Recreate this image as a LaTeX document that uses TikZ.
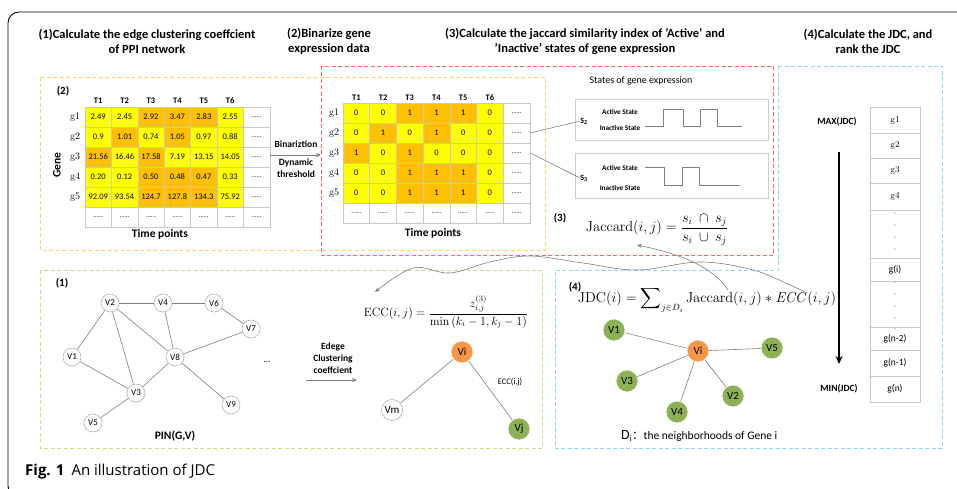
\documentclass[tikz,border=0pt]{standalone}
\usepackage[no-math]{fontspec}
\setmainfont{Carlito}
\newfontfamily\capfont{Open Sans}
\newfontfamily\cjk{Noto Sans CJK SC}
\usepackage{amsmath}
\usetikzlibrary{arrows.meta}

\definecolor{Y}{HTML}{FFFF00}
\definecolor{O}{HTML}{FFC000}
\definecolor{W}{HTML}{FFFFFF}
\definecolor{cellgray}{HTML}{C8C8C8}
\definecolor{dashyel}{HTML}{FFD36B}
\definecolor{dashred}{HTML}{FF6464}
\definecolor{dashblue}{HTML}{8FD6F2}
\definecolor{dashgreen}{HTML}{C5E08F}
\definecolor{vorange}{HTML}{F79646}
\definecolor{vgreen}{HTML}{8DB255}
\definecolor{linegray}{HTML}{7F7F7F}

\newcommand{\dd}{{\fontsize{6.5}{6.5}\selectfont ......}}
\newcommand{\gl}[1]{$\mathrm{g#1}$}

\begin{document}
\begin{tikzpicture}[x=1pt,y=-1pt,
  hdr/.style={font=\bfseries\fontsize{12.5}{15}\selectfont, align=center, inner sep=0},
  blbl/.style={inner sep=0, font=\bfseries\fontsize{9.5}{12}\selectfont, align=center},
  tlbl/.style={inner sep=0, font=\bfseries\fontsize{8.5}{9}\selectfont},
  slbl/.style={inner sep=0, font=\bfseries\fontsize{7.2}{8}\selectfont},
  glbl/.style={inner sep=0, font=\fontsize{10}{10}\selectfont},
  cell/.style={draw=cellgray, line width=0.6, inner sep=0, font=\fontsize{8.5}{9}\selectfont},
  dbox/.style={line width=0.9, dash pattern=on 4pt off 2.5pt},
  conn/.style={draw=linegray, line width=0.6},
  wave/.style={draw=linegray, line width=0.9},
  vnode/.style={circle, draw=gray!60, fill=white, line width=0.6, minimum size=18, inner sep=0, font=\fontsize{9}{9}\selectfont},
  bnode/.style={circle, draw=white, line width=0.6, minimum size=22, inner sep=0, font=\fontsize{11}{11}\selectfont},
  rank/.style={draw=cellgray, line width=0.6, minimum width=50, inner sep=0, font=\fontsize{9.5}{9.5}\selectfont},
  sbox/.style={draw=gray!40, line width=0.8, minimum width=193, inner sep=0},
  tip/.style={-{Stealth[length=5pt,width=4pt]}}
]
\useasboundingbox (0,0) rectangle (957,489);

% outer frame
\begin{scope}
  \clip (0,0) rectangle (957,489);
  \draw[line width=0.9, rounded corners=11] (975,12) -- (8,12) -- (8,497) -- (975,497);
\end{scope}

% step headings
\node[hdr] (h1) at (147,41) {(1)Calculate the edge clustering coeffcient\\of PPI network};
\node[hdr] (h2) at (329,41) {(2)Binarize gene\\expression data};
\node[hdr] (h3) at (585,41) {(3)Calculate the jaccard similarity index of 'Active' and\\'Inactive' states of gene expression};
\node[hdr] (h4) at (868,41) {(4)Calculate the JDC, and\\rank the JDC};

% dashed panels
\draw[dbox, dashyel] (40,77) rectangle (545,250);
\draw[dbox, dashred] (321,66) rectangle (773,255);
\draw[dbox, dashblue] (778,66) -- (942,66) -- (942,448) -- (555,448) -- (555,270) -- (778,270) -- cycle;
\draw[dbox, dashgreen] (40,270) rectangle (542,448);

% ---------- expression matrix ----------
\node[inner sep=0, font=\bfseries\fontsize{11}{11}\selectfont] (p2) at (63,91) {(2)};
\foreach \row [count=\r] in {
  {2.49/Y,2.45/Y,2.92/O,3.47/O,2.83/O,2.55/Y,\dd/W},
  {0.9/Y,1.01/O,0.74/Y,1.05/O,0.97/Y,0.88/Y,\dd/W},
  {21.56/O,16.46/Y,17.58/O,7.19/Y,13.15/Y,14.05/Y,\dd/W},
  {0.20/Y,0.12/Y,0.50/O,0.48/O,0.47/O,0.33/Y,\dd/W},
  {92.09/Y,93.54/Y,124.7/O,127.8/O,134.3/O,75.92/Y,\dd/W},
  {\dd/W,\dd/W,\dd/W,\dd/W,\dd/W,\dd/W,\dd/W}} {
  \foreach \v/\f [count=\c] in \row {
    \node[cell, fill=\f, minimum width=26.4, minimum height=20] (A-\r-\c) at ({85+26.4*(\c-0.5)},{107+20*(\r-0.5)}) {\v};
  }
}
\foreach \c in {1,...,6} {
  \node[tlbl] (AT-\c) at ({85+26.4*(\c-0.5)},101) {T\c};
}
\foreach \r in {1,...,5} {
  \node[glbl] (AG-\r) at (75,{107+20*(\r-0.5)}) {\gl{\r}};
}
\node[inner sep=0, rotate=90, font=\bfseries\fontsize{11.5}{11.5}\selectfont] (gene) at (57,165) {Gene};
\node[inner sep=0, font=\bfseries\fontsize{11.5}{11.5}\selectfont] (tp1) at (160,234) {Time points};

% binarization step
\coordinate (binend) at (321,155);
\draw[conn, tip] (270,155) -- (binend);
\node[blbl] (bin) at (296,144) {Binariztion};
\node[blbl] (dyn) at (296,168) {Dynamic\\threshold};

% ---------- binary matrix ----------
\foreach \row [count=\r] in {
  {0/Y,0/Y,1/O,1/O,1/O,0/Y,\dd/W},
  {0/Y,1/O,0/Y,1/O,0/Y,0/Y,\dd/W},
  {1/O,0/Y,1/O,0/Y,0/Y,0/Y,\dd/W},
  {0/Y,0/Y,1/O,1/O,1/O,0/Y,\dd/W},
  {0/Y,0/Y,1/O,1/O,1/O,0/Y,\dd/W},
  {\dd/W,\dd/W,\dd/W,\dd/W,\dd/W,\dd/W,\dd/W}} {
  \foreach \v/\f [count=\c] in \row {
    \node[cell, fill=\f, minimum width=26.7, minimum height=20] (B-\r-\c) at ({343+26.7*(\c-0.5)},{103+20*(\r-0.5)}) {\v};
  }
}
\foreach \c in {1,...,6} {
  \node[tlbl] (BT-\c) at ({343+26.7*(\c-0.5)},98) {T\c};
}
\foreach \r in {1,...,5} {
  \node[glbl] (BG-\r) at (334,{103+20*(\r-0.5)}) {\gl{\r}};
}
\node[inner sep=0, font=\bfseries\fontsize{11.5}{11.5}\selectfont] (tp2) at (433,233) {Time points};

% ---------- states of gene expression ----------
\node[inner sep=0, font=\fontsize{10}{10}\selectfont] (states) at (641,81) {States of gene expression};
\node[sbox, minimum height=41] (s2box) at (671.5,119.5) {};
\node[sbox, minimum height=45] (s3box) at (671.5,175.5) {};
\node[inner sep=0, font=\bfseries\fontsize{8}{8}\selectfont] (s2lab) at (584,121) {S\textsubscript{2}};
\node[inner sep=0, font=\bfseries\fontsize{8}{8}\selectfont] (s3lab) at (584,178) {S\textsubscript{3}};
\node[slbl] (a2) at (620,112) {Active State};
\node[slbl] (i2) at (620,128) {Inactive State};
\node[slbl] (a3) at (620,168) {Active State};
\node[slbl] (i3) at (620,188) {Inactive State};
\draw[wave] (645,126) -- (663,126) -- (663,109) -- (683,109) -- (683,126) -- (700,126) -- (700,109) -- (717,109) -- (717,126) -- (742,126);
\draw[wave] (645,167) -- (664,167) -- (664,185) -- (682,185) -- (682,167) -- (699,167) -- (699,185) -- (740,185);
\draw[conn] (B-2-7.east) -- (s2lab.west);
\draw[conn] (B-3-7.east) -- (s3lab.west);

\node[inner sep=0, font=\bfseries\fontsize{11}{11}\selectfont] (p3) at (560,218) {(3)};
\node[inner sep=0, font=\fontsize{14}{14}\selectfont] (jac) at (657,230)
  {$\mathrm{Jaccard}(i,j)=\dfrac{s_i\ \cap\ s_j}{s_i\ \cup\ s_j}$};

% ---------- ranking ----------
\node[blbl] (maxl) at (837,122) {MAX(JDC)};
\node[blbl] (minl) at (839,389) {MIN(JDC)};
\foreach \t/\b/\txt [count=\k] in {107/133/\gl{1},133/158/\gl{2},158/183/\gl{3},183/210/\gl{4},210/258/{},258/281/g(i),281/327/{},327/350/g(n-2),350/376/g(n-1),376/402/g(n)} {
  \node[rank, minimum height={\b-\t}] (R-\k) at (895,{(\t+\b)/2}) {\txt};
}
\foreach \y in {213,225,237,249,282,294,306,318,329} {
  \fill[gray!80!black] (895,\y) circle (0.6);
}
\coordinate (arrtop) at (839,152);
\coordinate (arrbot) at (839,364);
\draw[line width=1.8, -{Stealth[length=8pt,width=7pt]}] (arrtop) -- (arrbot);

% ---------- PPI network ----------
\node[inner sep=0, font=\bfseries\fontsize{11}{11}\selectfont] (p1) at (62,283) {(1)};
\node[vnode] (V2) at (110,303) {V2};
\node[vnode] (V4) at (163,303) {V4};
\node[vnode] (V6) at (214,303) {V6};
\node[vnode] (V7) at (251,329) {V7};
\node[vnode] (V1) at (72,357) {V1};
\node[vnode] (V8) at (175,357) {V8};
\node[vnode] (V3) at (136,393) {V3};
\node[vnode] (V9) at (231,405) {V9};
\node[vnode] (V5) at (93,423) {V5};
\foreach \a/\b in {V2/V4,V4/V6,V6/V7,V2/V1,V2/V3,V2/V8,V4/V8,V7/V8,V8/V3,V8/V9,V1/V3,V3/V5} {
  \draw[conn] (\a) -- (\b);
}
\node[inner sep=0, font=\fontsize{9}{9}\selectfont] (more) at (267,362) {...};
\node[inner sep=0, font=\bfseries\fontsize{11.5}{11.5}\selectfont] (pin) at (175,436) {PIN(G,V)};

% edge clustering coefficient
\node[blbl] (ecl) at (333,358) {Edege\\Clustering\\coeffcient};
\coordinate (eccA) at (306,380);
\coordinate (eccB) at (357,380);
\draw[conn, tip] (eccA) -- (eccB);
\node[inner sep=0, font=\fontsize{12}{12}\selectfont] (eccf) at (446,312)
  {$\mathrm{ECC}(i,j)=\dfrac{z_{i,j}^{(3)}}{\min\,(k_i-1,k_j-1)}$};
\node[bnode, fill=vorange] (Vi) at (462,352) {Vi};
\node[vnode, minimum size=21, font=\fontsize{11}{11}\selectfont] (Vm) at (392,410) {Vm};
\node[bnode, fill=vgreen] (Vj) at (519,429) {Vj};
\draw[conn] (Vi) -- (Vm);
\draw[conn] (Vi) -- (Vj);
\node[inner sep=0, font=\fontsize{8.5}{9}\selectfont] (ecclab) at (510,382) {ECC(i,j)};

% ---------- JDC ----------
\node[inner sep=0, font=\bfseries\fontsize{11}{11}\selectfont] (p4) at (575,287) {(4)};
\node[inner sep=0, font=\fontsize{13.5}{13.5}\selectfont] (jdc) at (707,300)
  {$\mathrm{JDC}(i)=\displaystyle\sum\nolimits_{j\in D_i}\mathrm{Jaccard}(i,j)*\mathit{ECC}(i,j)$};
\node[bnode, fill=vorange] (Ui) at (698,351) {Vi};
\node[bnode, fill=vgreen] (U1) at (614,330) {V1};
\node[bnode, fill=vgreen] (U5) at (772,348) {V5};
\node[bnode, fill=vgreen] (U3) at (627,381) {V3};
\node[bnode, fill=vgreen] (U2) at (733,396) {V2};
\node[bnode, fill=vgreen] (U4) at (677,412) {V4};
\foreach \b in {U1,U5,U3,U2,U4} {
  \draw[conn] (Ui) -- (\b);
}
\node[inner sep=0, anchor=west, font=\fontsize{11.5}{12}\selectfont] (di) at (621,436)
  {{\fontsize{14}{14}\selectfont D}\textsubscript{i}{\cjk ：}the neighborhoods of Gene i};

% references from the JDC formula back to its two factors
\coordinate (jacfrom) at (728,290);
\coordinate (jacto) at (637,245);
\draw[conn, tip] (jacfrom) .. controls (712,266) and (680,254) .. (jacto);
\coordinate (eccfrom) at (805,292);
\coordinate (eccto) at (375,292);
\draw[conn, tip] plot[smooth, tension=0.6] coordinates
  {(eccfrom) (790,285) (753,270) (700,262) (637,270) (583,263) (530,256) (490,262) (450,273) (413,268) (eccto)};

% caption
\node[inner sep=0, anchor=west, font=\capfont\fontsize{15}{15}\selectfont] (cap) at (25,472)
  {\textbf{Fig. 1}\hspace{7pt}An illustration of JDC};
\end{tikzpicture}
\end{document}
